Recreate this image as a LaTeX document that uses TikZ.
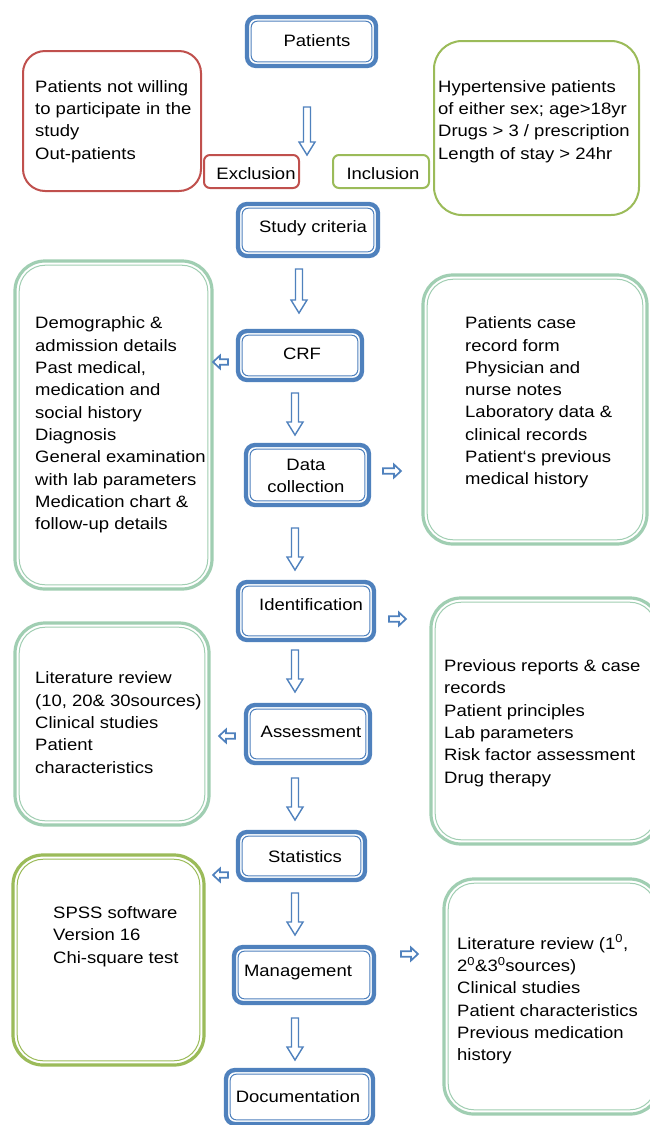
\documentclass[tikz,border=0pt]{standalone}
\usepackage{fontspec}
\setmainfont[FakeStretch=1.12]{Liberation Sans}
\definecolor{bblue}{RGB}{79,129,189}
\definecolor{bred}{RGB}{192,80,77}
\definecolor{bolive}{RGB}{155,187,89}
\definecolor{lgreen}{RGB}{160,206,178}
% #1 name, #2 colour, #3 x1, #4 y1, #5 x2, #6 y2, #7 outer radius, #8 inner radius, #9 outer width
\newcommand\dblbox[9]{%
  \node[draw=#2, line width=#9, rounded corners=#7, outer sep=0pt, inner sep=0pt,
        minimum width=#5pt-#3pt, minimum height=#6pt-#4pt] (#1) at ({(#3+#5)/2},{(#4+#6)/2}) {};
  \draw[#2, line width=1pt, rounded corners=#8]
    ([shift={(4.2,4.2)}]#1.north west) rectangle ([shift={(-4.2,-4.2)}]#1.south east);}
\newcommand\sglbox[8]{%
  \node[draw=#2, line width=#8, rounded corners=#7, outer sep=0pt, inner sep=0pt,
        minimum width=#5pt-#3pt, minimum height=#6pt-#4pt] (#1) at ({(#3+#5)/2},{(#4+#6)/2}) {};}
% down block arrow: x, top, tip
\newcommand\blockdown[3]{%
  \draw[barr] (#1-3.5,#2) -- (#1+3.5,#2) -- (#1+3.5,#3-13) -- (#1+8,#3-13) -- (#1,#3)
     -- (#1-8,#3-13) -- (#1-3.5,#3-13) -- cycle;}
% left block arrow: tip x, tail x, y
\newcommand\blockleft[3]{%
  \draw[barr,line width=1.7pt] (#2,#3-2.8) -- (#1+7,#3-2.8) -- (#1+7,#3-6.5) -- (#1,#3) -- (#1+7,#3+6.5)
     -- (#1+7,#3+2.8) -- (#2,#3+2.8) -- cycle;}
\newcommand\blockright[3]{%
  \draw[barr,line width=1.7pt] (#2,#3-2.8) -- (#1-7,#3-2.8) -- (#1-7,#3-6.5) -- (#1,#3) -- (#1-7,#3+6.5)
     -- (#1-7,#3+2.8) -- (#2,#3+2.8) -- cycle;}
\tikzset{
  barr/.style={draw=bblue, fill=white, line width=1.4pt, line join=miter},
  txt/.style={font=\fontsize{16.5}{22.3}\selectfont, align=left, inner sep=0pt, anchor=west, text=black},
  ctxt/.style={font=\fontsize{16.5}{22.3}\selectfont, align=center, inner sep=0pt, text=black},
}
\begin{document}
\begin{tikzpicture}[x=1pt,y=-1pt]
\useasboundingbox[fill=white] (0,0) rectangle (649,1125);

% blue process boxes
\dblbox{patients}{bblue}{247}{17}{376}{66}{9pt}{6pt}{4.3pt}
\dblbox{criteria}{bblue}{238}{204}{378}{256}{9pt}{6pt}{4.3pt}
\dblbox{crf}{bblue}{238}{331}{362}{380}{9pt}{6pt}{4.3pt}
\dblbox{datacol}{bblue}{246}{445}{369}{505}{9pt}{6pt}{4.3pt}
\dblbox{ident}{bblue}{238}{582}{374}{640}{9pt}{6pt}{4.3pt}
\dblbox{assess}{bblue}{246}{705}{370}{763}{9pt}{6pt}{4.3pt}
\dblbox{stats}{bblue}{238}{832}{365}{880}{9pt}{6pt}{4.3pt}
\dblbox{manage}{bblue}{234}{947}{374}{1003}{9pt}{6pt}{4.3pt}
\dblbox{docu}{bblue}{226}{1070}{373}{1124}{9pt}{6pt}{4.3pt}

\node[ctxt] (tpatients) at (317,41) {Patients};
\node[ctxt] (tcriteria) at (313,228) {Study criteria};
\node[ctxt] (tcrf) at (302,354) {CRF};
\node[ctxt] (tdatacol) at (306,476) {Data\\collection};
\node[ctxt] (tident) at (311,605) {Identification};
\node[ctxt] (tassess) at (311,732) {Assessment};
\node[ctxt] (tstats) at (305,857) {Statistics};
\node[ctxt] (tmanage) at (298,973) {Management};
\node[ctxt] (tdocu) at (298,1097) {Documentation};

% exclusion / inclusion
\sglbox{exbig}{bred}{23}{51}{201}{191}{22pt}{2pt}
\sglbox{exsmall}{bred}{204}{155}{299}{188}{6pt}{2pt}
\sglbox{insmall}{bolive}{333}{155}{429}{188}{6pt}{2pt}
\sglbox{inbig}{bolive}{434}{41}{639}{215}{28pt}{2pt}
\node[ctxt] (texsmall) at (256,174) {Exclusion};
\node[ctxt] (tinsmall) at (383,174) {Inclusion};
\node[txt] (texbig) at (35,121.5) {Patients not willing\\to participate in the\\study\\Out-patients};
\node[txt] (tinbig) at (438,121.5) {Hypertensive patients\\of either sex; age>18yr\\Drugs > 3 / prescription\\Length of stay > 24hr};

% detail boxes
\dblbox{leftA}{lgreen}{15}{261}{212}{589}{30pt}{26pt}{3.2pt}
\dblbox{rightA}{lgreen}{423}{275}{647}{544}{30pt}{26pt}{3.2pt}
\dblbox{rightB}{lgreen}{431}{598}{660}{844}{30pt}{26pt}{3.2pt}
\dblbox{leftB}{lgreen}{15}{623}{209}{825}{30pt}{26pt}{3.2pt}
\dblbox{leftC}{bolive}{13}{855}{204}{1065}{30pt}{26pt}{3.2pt}
\dblbox{rightC}{lgreen}{444}{879}{660}{1114}{30pt}{26pt}{3.2pt}

\node[txt] (tleftA) at (35,425) {Demographic \&\\admission details\\Past medical,\\medication and\\social history\\Diagnosis\\General examination\\with lab parameters\\Medication chart \&\\follow-up details};
\node[txt] (trightA) at (465,402.5) {Patients case\\record form\\Physician and\\nurse notes\\Laboratory data \&\\clinical records\\Patient‘s previous\\medical history};
\node[txt] (trightB) at (444,723) {Previous reports \& case\\records\\Patient principles\\Lab parameters\\Risk factor assessment\\Drug therapy};
\node[txt] (tleftB) at (35,722.5) {Literature review\\(10, 20\& 30sources)\\Clinical studies\\Patient\\characteristics};
\node[txt] (tleftC) at (53,936.5) {SPSS software\\Version 16\\Chi-square test};
\node[txt] (trightC) at (457,999.5) {Literature review (1\textsuperscript{0},\\2\textsuperscript{0}\&3\textsuperscript{0}sources)\\Clinical studies\\Patient characteristics\\Previous medication\\history};

% block arrows
\blockdown{307}{107}{155}
\blockdown{299}{269}{313}
\blockdown{295}{393}{435}
\blockdown{295}{528}{570}
\blockdown{295}{650}{692}
\blockdown{295}{778}{820}
\blockdown{295}{893}{935}
\blockdown{295}{1018}{1060}
\blockleft{213}{228}{362}
\blockright{401}{383}{471}
\blockright{406}{389}{619}
\blockleft{219}{235}{736}
\blockleft{213}{228}{875}
\blockright{418}{401}{954}
\end{tikzpicture}
\end{document}
